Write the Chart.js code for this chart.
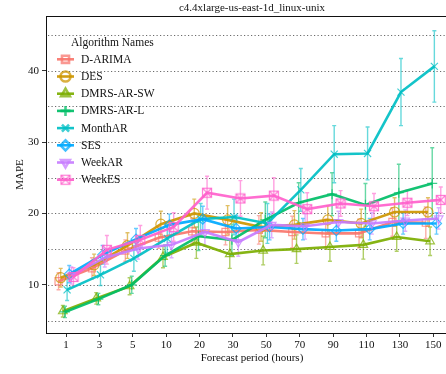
<!DOCTYPE html>
<html><head><meta charset="utf-8">
<script src="https://cdn.jsdelivr.net/npm/chart.js@4.4.1/dist/chart.umd.min.js"></script>
<style>
html,body{margin:0;padding:0;background:#fff;overflow:hidden;width:446px;height:374px}
#wrap{position:relative;width:466px;height:374px}
</style>
</head><body><div id="wrap"><canvas id="c" width="466" height="374"></canvas></div>
<script>
const chartTitle = 'c4.4xlarge-us-east-1d_linux-unix';
const xTitle = 'Forecast period (hours)';
const yTitle = 'MAPE';
const legendTitle = 'Algorithm Names';
const categories = ['1','3','5','10','20','30','50','70','90','110','130','150'];
const yTickLabels = [10, 20, 30, 40];
const yGridValues = [5, 10, 15, 20, 25, 30, 35, 40, 45];
const seriesNames = ['D-ARIMA','DES','DMRS-AR-SW','DMRS-AR-L','MonthAR','SES','WeekAR','WeekES'];

const dArima    = [10.5, 12.3, 14.8, 16.6, 17.5, 17.4, 17.7, 17.4, 17.2, 17.2, 18.8, 18.7];
const des       = [11.0, 12.8, 15.5, 18.5, 20.0, 19.1, 18.1, 18.4, 19.1, 18.6, 20.2, 20.2];
const dmrsArSw  = [6.3, 8.1, 9.8, 13.9, 15.9, 14.3, 14.8, 15.0, 15.3, 15.6, 16.7, 16.1];
const dmrsArL   = [6.2, 8.0, 10.0, 14.1, 16.8, 16.3, 19.1, 21.5, 22.7, 21.2, 22.9, 24.2];
const monthAr   = [9.3, 11.4, 13.7, 16.5, 19.2, 19.5, 18.6, 23.3, 28.3, 28.4, 37.0, 40.6];
const ses       = [11.5, 14.2, 16.4, 18.4, 19.2, 17.9, 18.1, 17.8, 17.6, 17.8, 18.6, 18.6];
const weekAr    = [11.3, 13.8, 15.1, 15.6, 17.4, 16.0, 18.4, 18.2, 18.8, 18.6, 19.0, 19.3];
const weekEs    = [11.1, 14.9, 16.3, 18.1, 22.9, 22.1, 22.5, 20.6, 21.4, 21.0, 21.5, 21.9];

const dArimaErr   = [1.2, 1.5, 1.5, 1.5, 1.8, 1.8, 2.0, 2.2, 2.0, 2.0, 2.0, 2.2];
const desErr      = [1.3, 1.5, 1.8, 1.8, 2.0, 2.0, 2.0, 2.0, 2.0, 2.0, 2.0, 2.0];
const dmrsArSwErr = [0.8, 0.8, 1.2, 1.5, 2.2, 2.0, 2.0, 2.0, 2.0, 2.0, 2.0, 2.0];
const dmrsArLErr  = [0.8, 0.8, 1.2, 1.5, 2.0, 2.2, 2.5, 2.8, 3.0, 3.0, 4.0, 5.0];
const monthArErr  = [1.5, 1.5, 1.8, 2.0, 2.2, 2.5, 2.8, 3.0, 4.0, 3.7, 4.7, 5.0];
const sesErr      = [1.2, 1.3, 1.5, 1.5, 1.8, 1.8, 1.8, 1.5, 1.5, 1.5, 1.5, 1.5];
const weekArErr   = [1.2, 1.3, 1.5, 1.8, 2.0, 2.0, 1.8, 1.8, 1.5, 1.5, 1.5, 1.5];
const weekEsErr   = [1.3, 2.0, 2.0, 2.0, 2.3, 2.5, 2.5, 2.3, 1.8, 1.8, 1.8, 1.8];

const seriesValues = [dArima, des, dmrsArSw, dmrsArL, monthAr, ses, weekAr, weekEs];
const seriesErrors = [dArimaErr, desErr, dmrsArSwErr, dmrsArLErr, monthArErr, sesErr, weekArErr, weekEsErr];
const colors = ['#F8766D','#CD9600','#7CAE00','#00BE67','#00BFC4','#00A9FF','#C77CFF','#FF61CC'];

function rgba(hex, a){
  const n = parseInt(hex.slice(1),16);
  return `rgba(${(n>>16)&255},${(n>>8)&255},${n&255},${a})`;
}
function boxX(color){
  const c = document.createElement('canvas'); c.width = 12; c.height = 12;
  const g = c.getContext('2d'); g.strokeStyle = color; g.lineWidth = 1.2;
  g.strokeRect(1.5,1.5,9,9);
  g.beginPath(); g.moveTo(1.5,1.5); g.lineTo(10.5,10.5); g.moveTo(10.5,1.5); g.lineTo(1.5,10.5); g.stroke();
  return c;
}
const markerStyles = [
  {pointStyle:'rect', rotation:0},
  {pointStyle:'circle', rotation:0},
  {pointStyle:'triangle', rotation:0},
  {pointStyle:'cross', rotation:0},
  {pointStyle:'crossRot', rotation:0},
  {pointStyle:'rectRot', rotation:0},
  {pointStyle:'triangle', rotation:180},
  {pointStyle: boxX(rgba(colors[7],0.85)), rotation:0}
];

const nS = seriesNames.length;
const datasets = seriesNames.map((name,k)=>{
  const dodge = (k - (nS-1)/2) * 0.064;
  return {
    label: name,
    data: seriesValues[k].map((v,i)=>({x: i + dodge, y: v})),
    errors: seriesErrors[k],
    borderColor: rgba(colors[k],0.92),
    backgroundColor: 'rgba(0,0,0,0)',
    borderWidth: 2.6,
    pointStyle: markerStyles[k].pointStyle,
    pointRotation: markerStyles[k].rotation,
    pointRadius: 5,
    pointBorderWidth: 1.2,
    pointBorderColor: rgba(colors[k],0.75),
    pointBackgroundColor: 'rgba(0,0,0,0)',
    tension: 0,
    order: nS - 1 - k,
    clip: false
  };
});

const SERIF = '"Liberation Serif", "DejaVu Serif", serif';

const errorBars = {
  id: 'errorBars',
  beforeDatasetsDraw(chart){
    const ctx = chart.ctx, ys = chart.scales.y, a = chart.chartArea;
    // dotted horizontal grid
    ctx.save();
    ctx.strokeStyle = 'rgba(90,90,90,0.9)';
    ctx.lineWidth = 1;
    ctx.setLineDash([1.2, 2.3]);
    yGridValues.forEach(v=>{
      const y = Math.round(ys.getPixelForValue(v)) + 0.5;
      ctx.beginPath(); ctx.moveTo(a.left + 2, y); ctx.lineTo(a.right, y); ctx.stroke();
    });
    ctx.restore();
    chart.data.datasets.forEach((ds,k)=>{
      const meta = chart.getDatasetMeta(k);
      ctx.save();
      ctx.strokeStyle = rgba(colors[k],0.6);
      ctx.lineWidth = 1.4;
      meta.data.forEach((pt,i)=>{
        const v = ds.data[i].y, e = ds.errors[i];
        const yt = ys.getPixelForValue(v+e), yb = ys.getPixelForValue(v-e);
        ctx.beginPath();
        ctx.moveTo(pt.x, yt); ctx.lineTo(pt.x, yb);
        ctx.moveTo(pt.x-2, yt); ctx.lineTo(pt.x+2, yt);
        ctx.moveTo(pt.x-2, yb); ctx.lineTo(pt.x+2, yb);
        ctx.stroke();
      });
      ctx.restore();
    });
  }
};

const frame = {
  id: 'frame',
  afterDraw(chart){
    const {ctx, chartArea:a} = chart;
    ctx.save();
    ctx.strokeStyle = '#111'; ctx.lineWidth = 1;
    ctx.strokeRect(Math.round(a.left)+0.5, Math.round(a.top)+0.5, Math.round(a.right-a.left), Math.round(a.bottom-a.top));
    ctx.fillStyle = '#111';
    ctx.font = '11px ' + SERIF;
    ctx.textAlign = 'center'; ctx.textBaseline = 'middle';
    ctx.fillText(chartTitle, (a.left + a.right)/2, 8);
    // legend
    ctx.textAlign = 'left';
    ctx.font = '11.5px ' + SERIF;
    ctx.fillText(legendTitle, a.left + 25, a.top + 27);
    const H = Chart.helpers;
    chart.data.datasets.forEach((ds,k)=>{
      const y = a.top + 43.3 + k*17.2;
      const x0 = a.left + 11, x1 = a.left + 28, xm = (x0+x1)/2;
      ctx.strokeStyle = rgba(colors[k],0.92); ctx.lineWidth = 2.6;
      ctx.beginPath(); ctx.moveTo(x0,y); ctx.lineTo(x1,y); ctx.stroke();
      ctx.strokeStyle = rgba(colors[k],0.75); ctx.fillStyle = 'rgba(0,0,0,0)';
      H.drawPoint(ctx, {pointStyle: ds.pointStyle, rotation: ds.pointRotation, radius: 5, borderWidth: 1.2}, xm, y);
      ctx.fillStyle = '#111';
      ctx.fillText(ds.label, a.left + 35, y + 0.5);
    });
    ctx.restore();
  }
};

new Chart(document.getElementById('c'), {
  type: 'line',
  data: { datasets },
  options: {
    responsive: false,
    animation: false,
    devicePixelRatio: 1,
    layout: { padding: { top: 16, right: 8, left: 0, bottom: 0 } },
    plugins: { legend: { display: false }, tooltip: { enabled: false }, title: { display: false } },
    scales: {
      x: {
        type: 'linear',
        min: -0.6, max: 11.74,
        afterFit: s => { s.height = 41; },
        afterBuildTicks: s => { s.ticks = categories.map((c,i)=>({value:i})); },
        grid: { drawOnChartArea: false, drawTicks: true, tickLength: 4, color: '#333', tickColor: '#333' },
        border: { display: false },
        ticks: { callback: v => categories[v], font: { family: SERIF, size: 11 }, color: '#111', padding: 2, maxRotation: 0, autoSkip: false },
        title: { display: true, text: xTitle, font: { family: SERIF, size: 11 }, color: '#111', padding: { top: 0, bottom: 9.5 } }
      },
      y: {
        type: 'linear',
        min: 3.25, max: 47.66,
        afterFit: s => { s.width = 46; },
        afterBuildTicks: s => { s.ticks = yTickLabels.map(v=>({value:v})); },
        grid: { drawOnChartArea: false, drawTicks: true, tickLength: 4, color: '#333', tickColor: '#333' },
        border: { display: false },
        ticks: { callback: v => String(v), font: { family: SERIF, size: 11 }, color: '#111', padding: 3 },
        title: { display: true, text: yTitle, font: { family: SERIF, size: 11 }, color: '#111', padding: { top: 14, bottom: 0 } }
      }
    }
  },
  plugins: [errorBars, frame]
});
</script>
</body></html>
